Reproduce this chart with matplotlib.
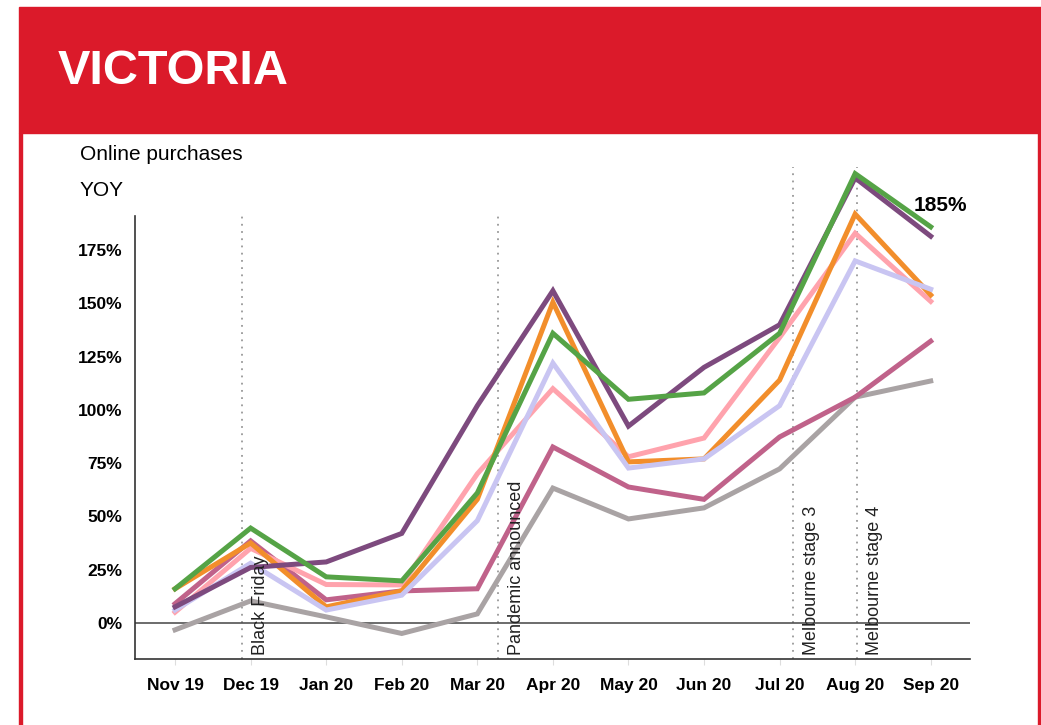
import matplotlib
matplotlib.use("Agg")
import matplotlib.pyplot as plt
from matplotlib.patches import Rectangle

plt.rcParams['font.family'] = ['Liberation Sans', 'DejaVu Sans']

# data (YOY % growth in online purchases)
months = ['Nov 19', 'Dec 19', 'Jan 20', 'Feb 20', 'Mar 20', 'Apr 20',
          'May 20', 'Jun 20', 'Jul 20', 'Aug 20', 'Sep 20']
gray = [-3.3, 10.3, 2.8, -5, 4.2, 63.3, 48.8, 54, 72.3, 106, 113.6]
mauve = [9, 38.5, 10.8, 15, 16, 82.6, 63.8, 58, 87.3, 106, 132.3]
lavender = [6, 28, 6, 13, 48, 122, 72.7, 77, 102, 170, 156.7]
pink = [5, 35, 18, 17.8, 70, 110, 78, 86.8, 134, 183, 151]
orange = [16, 37.5, 7.5, 15, 58, 150.6, 75.6, 77, 114, 192, 154]
purple = [7.5, 26, 28.6, 42, 102, 156, 92.4, 120, 140, 209, 181.6]
green = [16, 44.5, 21.6, 19.7, 61, 136, 105, 108, 136, 211, 186]

series = [
    (gray, '#a9a3a4'),
    (mauve, '#c0628a'),
    (pink, '#ffa3ad'),
    (orange, '#f28e2b'),
    (lavender, '#c9c5f2'),
    (purple, '#7d4a7e'),
    (green, '#55a346'),
]

events = ['Black Friday', 'Pandemic announced', 'Melbourne stage 3', 'Melbourne stage 4']
event_pos = [0.89, 4.28, 8.18, 9.02]
event_top = [191, 191, 214, 214]

yticks = [0, 25, 50, 75, 100, 125, 150, 175]

fig = plt.figure(figsize=(10.41, 7.25), dpi=100)

# red header band and side borders
red = '#db1a2a'
fig.patches.append(Rectangle((19 / 1041, 592 / 725), 1 - 19 / 1041, 126 / 725,
                             transform=fig.transFigure, color=red, zorder=0))
fig.patches.append(Rectangle((19 / 1041, 0), 2.5 / 1041, 592 / 725,
                             transform=fig.transFigure, color=red, zorder=0))
fig.patches.append(Rectangle((1037.5 / 1041, 0), 3.5 / 1041, 592 / 725,
                             transform=fig.transFigure, color=red, zorder=0))
fig.text(58 / 1041, 1 - 72 / 725, 'VICTORIA', color='white', fontsize=35,
         fontweight='bold', va='center', ha='left')

fig.text(80 / 1041, 1 - 155 / 725, 'Online purchases', fontsize=15, va='center')
fig.text(80 / 1041, 1 - 190 / 725, 'YOY', fontsize=15, va='center')

ax = fig.add_axes([0.1297, 0.0910, 0.8021, 0.6842])
x = list(range(len(months)))

for vals, c in series:
    ax.plot(x, vals, color=c, lw=3.6, solid_joinstyle='miter', zorder=3)

ax.axhline(0, color='#444444', lw=1.1, zorder=2)

for name, pos, top in zip(events, event_pos, event_top):
    ax.vlines(pos, -17, top, colors='#999999', linestyles=(0, (1, 3)), lw=1.3,
              zorder=1, clip_on=False)
    ax.text(pos + 0.13, -15, name, rotation=90, ha='left', va='bottom',
            fontsize=13, color='#222222', zorder=4)

ax.text(9.78, 196, '185%', fontsize=15, fontweight='bold', ha='left', va='center')

ax.set_xlim(-0.53, 10.52)
ax.set_ylim(-17, 216)
ax.set_xticks(x)
ax.set_xticklabels(months, fontsize=12.5, fontweight='bold')
ax.set_yticks(yticks)
ax.set_yticklabels([f'{v}%' for v in yticks], fontsize=12.5, fontweight='bold')
ax.tick_params(axis='x', length=4, color='#dddddd', pad=10)
ax.tick_params(axis='y', length=0, pad=9)

for s in ['top', 'right']:
    ax.spines[s].set_visible(False)
ax.spines['left'].set_bounds(-17, 191)
ax.spines['left'].set_color('#333333')
ax.spines['bottom'].set_color('#333333')
ax.spines['left'].set_linewidth(1.2)
ax.spines['bottom'].set_linewidth(1.2)

fig.savefig('out.png', dpi=100)
